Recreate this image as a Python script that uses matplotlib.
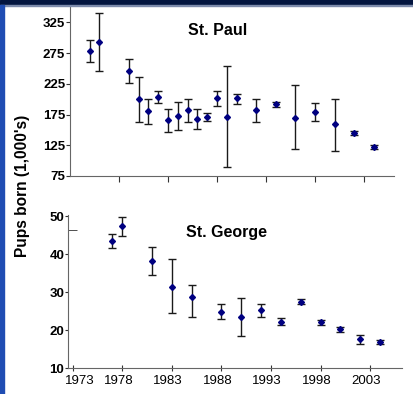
import matplotlib
matplotlib.use("Agg")
import matplotlib.pyplot as plt
from matplotlib.patches import Rectangle
from matplotlib.transforms import ScaledTranslation

plt.rcParams['font.family'] = ['Liberation Sans', 'DejaVu Sans']

# St. Paul pup estimates (1,000's) with lower / upper bounds
paul_years = [1975, 1976, 1979, 1980, 1981, 1982, 1983, 1984, 1985, 1986, 1987,
              1988, 1989, 1990, 1992, 1994, 1996, 1998, 2000, 2002, 2004]
paul_mean = [278.8, 292.9, 246.2, 200.5, 180.0, 203.8, 166.8, 173.4, 183.2, 167.9, 171.2,
             202.7, 171.2, 201.6, 183.2, 192.4, 170.1, 179.3, 159.2, 145.1, 122.8]
paul_low = [260.3, 245.1, 226.1, 162.5, 159.2, 194.6, 146.2, 150.0, 162.5, 151.1, 164.1,
            189.7, 89.7, 192.9, 162.5, 187.5, 118.5, 164.1, 115.8, 141.8, 119.6]
paul_high = [296.2, 339.7, 265.8, 236.4, 199.5, 213.0, 184.8, 195.7, 201.1, 184.2, 177.7,
             214.1, 253.8, 209.2, 201.1, 196.2, 222.3, 194.6, 200.5, 148.4, 125.5]

# St. George
george_years = [1977, 1978, 1981, 1983, 1985, 1988, 1990, 1992, 1994, 1996, 1998, 2000, 2002, 2004]
george_mean = [43.45, 47.5, 38.2, 31.4, 28.8, 24.9, 23.4, 25.3, 22.2, 27.4, 22.05, 20.2, 17.6, 17.0]
george_low = [41.6, 44.85, 34.4, 24.4, 23.4, 22.9, 18.6, 23.6, 21.4, 26.9, 21.5, 19.6, 16.5, 16.4]
george_high = [45.4, 49.8, 41.9, 38.6, 32.0, 26.9, 28.5, 26.9, 23.3, 28.1, 22.6, 20.9, 18.8, 17.5]

year_ticks = [1973, 1978, 1983, 1988, 1993, 1998, 2003]

fig = plt.figure(figsize=(4.14, 3.94), dpi=100)
fig.patch.set_facecolor('white')
# frame decoration: navy bar on top, blue strip at left
fig.patches.append(Rectangle((0, 1 - 5 / 394), 1, 5 / 394, transform=fig.transFigure,
                             color='#03153f', zorder=0))
fig.patches.append(Rectangle((0, 1 - 6 / 394), 1, 1.2 / 394, transform=fig.transFigure,
                             color='#7d8bab', zorder=0))
fig.patches.append(Rectangle((0, 0), 4 / 414, 1 - 5 / 394, transform=fig.transFigure,
                             color='#1f4db3', zorder=0))

ax1 = fig.add_axes([70 / 414, 1 - 176 / 394, 324 / 414, 169 / 394])
ax2 = fig.add_axes([67.7 / 414, 1 - 368.3 / 394, 334 / 414, 153.8 / 394])


def draw(ax, years, mean, low, high):
    err = [[m - l for m, l in zip(mean, low)], [h - m for m, h in zip(mean, high)]]
    ax.errorbar(years, mean, yerr=err, fmt='D', ms=3, color='#000080',
                ecolor='#1a1a1a', elinewidth=1, capsize=3, capthick=1)
    for s in ['top', 'right']:
        ax.spines[s].set_visible(False)
    for s in ['left', 'bottom']:
        ax.spines[s].set_color('#666666')
    ax.set_facecolor('none')


draw(ax1, paul_years, paul_mean, paul_low, paul_high)
ax1.set_xlim(1973, 2006.06)
ax1.set_ylim(75, 350)
ax1.set_yticks([75, 125, 175, 225, 275, 325])
ax1.set_xticks(year_ticks[1:])
ax1.tick_params(axis='x', direction='out', length=4, labelbottom=False, color='#333333')
ax1.tick_params(axis='y', direction='out', length=3, pad=0.5, labelsize=9.5, color='#333333')
for t in ax1.get_yticklabels():
    t.set_fontweight('bold')
ax1.text(0.457, 0.858, 'St. Paul', transform=ax1.transAxes, ha='center', va='center',
         fontsize=11.5, fontweight='bold')

draw(ax2, george_years, george_mean, george_low, george_high)
ax2.set_xlim(1972.49, 2006.19)
ax2.set_ylim(10, 50.4)
ax2.set_yticks([10, 20, 30, 40, 50])
ax2.set_yticks([46.2], minor=True)
ax2.set_xticks(year_ticks)
ax2.set_xticklabels([str(y) for y in year_ticks])
ax2.tick_params(axis='x', direction='inout', length=5, pad=2, labelsize=9.5, color='#333333')
ax2.tick_params(axis='y', direction='out', length=2, pad=0.5, labelsize=9.5, color='#333333')
ax2.tick_params(axis='y', which='minor', direction='in', length=6.5, color='#333333')
# labels sit a little left of their ticks, the first one starts near the axis
xlabels = ax2.get_xticklabels()
for t in xlabels[1:]:
    t.set_transform(t.get_transform() + ScaledTranslation(-4 / 100, 0, fig.dpi_scale_trans))
xlabels[0].set_horizontalalignment('left')
xlabels[0].set_transform(xlabels[0].get_transform()
                         + ScaledTranslation(-7.5 / 100, 0, fig.dpi_scale_trans))
for t in ax2.get_yticklabels():
    t.set_fontweight('bold')
ax2.text(0.474, 0.886, 'St. George', transform=ax2.transAxes, ha='center', va='center',
         fontsize=11.5, fontweight='bold')

fig.text(0.054, 0.529, "Pups born (1,000's)", rotation=90, ha='center', va='center',
         fontsize=11.2, fontweight='bold')

fig.savefig('out.png', dpi=100)
